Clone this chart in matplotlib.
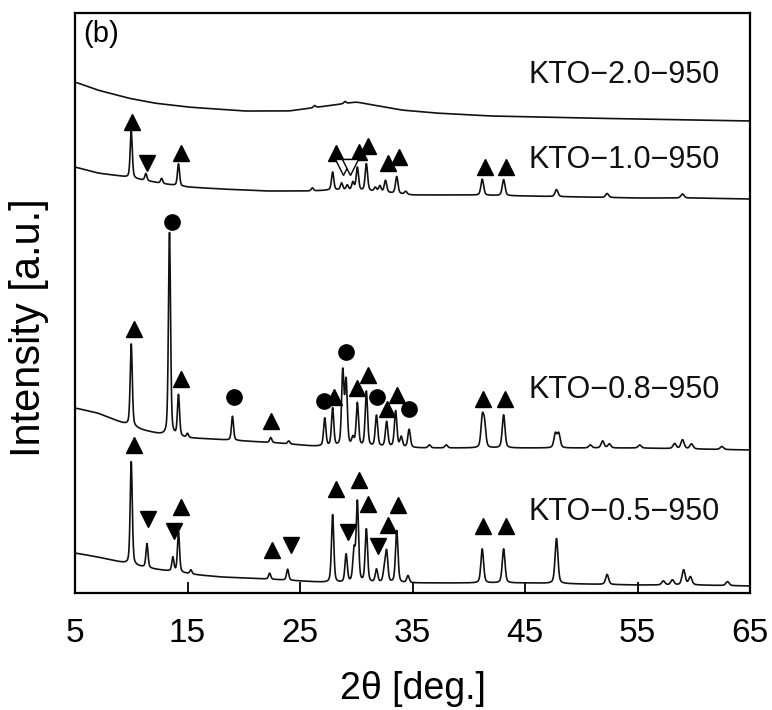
import numpy as np
import matplotlib
matplotlib.use("Agg")
import matplotlib.pyplot as plt

plt.rcParams['font.family'] = ['Liberation Sans', 'DejaVu Sans']

# ---------------- data ----------------
x_ticks = [5, 15, 25, 35, 45, 55, 65]
sample_labels = ["KTO\u22122.0\u2212950", "KTO\u22121.0\u2212950",
                 "KTO\u22120.8\u2212950", "KTO\u22120.5\u2212950"]

# KTO-2.0-950 (amorphous)
b20_t = [5, 7, 9.7, 12, 15, 20, 24, 26, 28, 30, 32, 34, 37, 42, 50, 60, 65]
b20_h = [511, 503, 495, 490, 486, 482, 482, 485, 488, 491, 487, 483, 480, 477, 475, 473, 472]
p20_t = [26.3, 29.0]
p20_a = [2, 2]

# KTO-1.0-950
b10_t = [5, 7, 9, 11, 13, 15, 18, 22, 26, 28, 31, 35, 40, 45, 50, 55, 60, 65]
b10_h = [426, 420, 417, 413, 409, 406, 404, 402, 402, 403, 402, 398, 398, 397, 396, 395, 395, 394]
p10_t = [10.0, 11.3, 12.7, 14.2, 26.1, 27.9, 28.7, 29.2, 29.7, 30.1, 30.9, 31.7, 32.1, 32.6,
         33.6, 34.4, 41.2, 43.1, 47.8, 52.3, 59.0]
p10_a = [47, 7, 5, 22, 3, 18, 7, 5, 8, 23, 27, 4, 6, 12, 17, 3, 16, 16, 7, 4, 4]

# KTO-0.8-950
b08_t = [5, 7, 9, 11, 12.8, 15, 17, 20, 23, 26, 28, 32, 36, 40, 45, 50, 55, 60, 65]
b08_h = [185, 180, 171, 163, 158, 155, 154, 152, 150, 147, 146, 146, 145, 145, 145, 145, 145, 144, 143]
p08_t = [10.0, 13.4, 14.2, 15.0, 19.0, 22.4, 24.0, 27.2, 27.9, 28.8, 29.1, 29.7, 30.1, 30.9,
         31.8, 32.7, 33.5, 34.0, 34.7, 36.5, 38.0, 41.2, 41.4, 43.1, 47.7, 48.0, 50.8, 51.9,
         52.5, 55.2, 58.3, 59.0, 59.8, 62.5]
p08_a = [82, 203, 41, 4, 24, 5, 3, 28, 38, 74, 64, 8, 43, 55, 31, 25, 36, 10, 18, 3, 3, 28,
         22, 33, 14, 14, 3, 7, 4, 3, 5, 9, 5, 3]

# KTO-0.5-950
b05_t = [5, 7, 9, 10.5, 12, 14, 16, 18, 20, 22, 25, 28, 35, 45, 50, 55, 60, 65]
b05_h = [40, 36, 31, 27, 24, 21, 18, 16, 15, 14, 12, 10, 10, 10, 9, 8, 8, 7]
p05_t = [10.0, 11.4, 13.7, 14.2, 15.3, 22.3, 23.9, 27.9, 29.1, 29.8, 30.1, 30.9, 31.8, 32.5,
         32.7, 33.6, 34.6, 41.2, 43.1, 47.8, 52.3, 57.3, 58.1, 59.1, 59.7, 63.0]
p05_a = [103, 24, 14, 40, 4, 6, 11, 68, 28, 31, 80, 53, 13, 12, 30, 52, 7, 34, 34, 45, 10,
         4, 5, 15, 8, 4]

# phase markers (2θ, height)
m10_up_t = [10.1, 14.4, 28.2, 30.2, 31.0, 32.8, 33.8, 41.4, 43.3]
m10_up_h = [471, 440, 440, 441, 447, 430, 436, 426, 426]
m10_dn_t = [11.4]
m10_dn_h = [430]
m10_open_t = [28.8, 29.4]
m10_open_h = [426, 426]

m08_up_t = [10.2, 14.4, 22.4, 28.0, 30.1, 31.0, 32.7, 33.6, 41.3, 43.2]
m08_up_h = [264, 214, 172, 196, 205, 218, 184, 198, 194, 194]
m08_ci_t = [13.6, 19.1, 27.1, 29.1, 31.8, 34.7]
m08_ci_h = [371, 196, 192, 241, 196, 184]

m05_up_t = [10.2, 14.4, 22.5, 28.2, 30.2, 31.0, 32.8, 33.7, 41.3, 43.3]
m05_up_h = [148, 86, 43, 104, 113, 89, 68, 88, 67, 67]
m05_dn_t = [11.5, 13.8, 24.2, 29.3, 31.9]
m05_dn_h = [74, 62, 48, 61, 47]

label_t = [45.3, 45.3, 45.3, 45.3]
label_h = [518, 433, 203, 81]

# ---------------- build profiles ----------------
tt = np.arange(5, 65.0001, 0.02)


def profile(bt, bh, pt, pa, fwhm=0.22):
    base = np.interp(tt, bt, bh)
    k = 15
    pad = np.pad(base, k, mode='edge')
    base = np.convolve(pad, np.ones(2 * k + 1) / (2 * k + 1), mode='same')[k:-k]
    y = base.copy()
    for c, a in zip(pt, pa):
        w = fwhm + 0.003 * max(c - 20, 0)
        g = np.exp(-4 * np.log(2) * ((tt - c) / w) ** 2)
        lo = 1.0 / (1 + 4 * ((tt - c) / w) ** 2)
        y += a * (0.6 * g + 0.4 * lo)
    return y


fig = plt.figure(figsize=(7.72, 7.10), dpi=100)
ax = fig.add_axes([75 / 772, 1 - 593 / 710, 675 / 772, 580 / 710])

col = '#111111'
for bt, bh, pt, pa in [(b20_t, b20_h, p20_t, p20_a), (b10_t, b10_h, p10_t, p10_a),
                       (b08_t, b08_h, p08_t, p08_a), (b05_t, b05_h, p05_t, p05_a)]:
    ax.plot(tt, profile(bt, bh, pt, pa), color=col, lw=1.2)

ms = 11
ax.plot(m10_up_t, m10_up_h, ls='none', marker='^', ms=ms, color='black')
ax.plot(m10_dn_t, m10_dn_h, ls='none', marker='v', ms=ms, color='black')
ax.plot(m10_open_t, m10_open_h, ls='none', marker='v', ms=ms, mfc='white', mec='black', mew=1.0)
ax.plot(m08_up_t, m08_up_h, ls='none', marker='^', ms=ms, color='black')
ax.plot(m08_ci_t, m08_ci_h, ls='none', marker='o', ms=ms, color='black')
ax.plot(m05_up_t, m05_up_h, ls='none', marker='^', ms=ms, color='black')
ax.plot(m05_dn_t, m05_dn_h, ls='none', marker='v', ms=ms, color='black')

for t, h, s in zip(label_t, label_h, sample_labels):
    ax.text(t, h, s, fontsize=22, va='center', ha='left', color='#111')

ax.text(0.012, 0.988, "(b)", transform=ax.transAxes, fontsize=21, va='top', ha='left')

ax.set_xlim(5, 65)
ax.set_ylim(0, 580)
ax.set_xticks(x_ticks)
ax.set_yticks([])
ax.tick_params(axis='x', direction='in', length=8, width=1.3, labelsize=24, pad=18)
for sp in ax.spines.values():
    sp.set_linewidth(1.6)
ax.set_xlabel("2\u03b8 [deg.]", fontsize=27, labelpad=16)
fig.text(29 / 772, 1 - 328 / 710, "Intensity [a.u.]", fontsize=30, rotation=90,
         ha='center', va='center')

fig.savefig("out.png", dpi=100)
